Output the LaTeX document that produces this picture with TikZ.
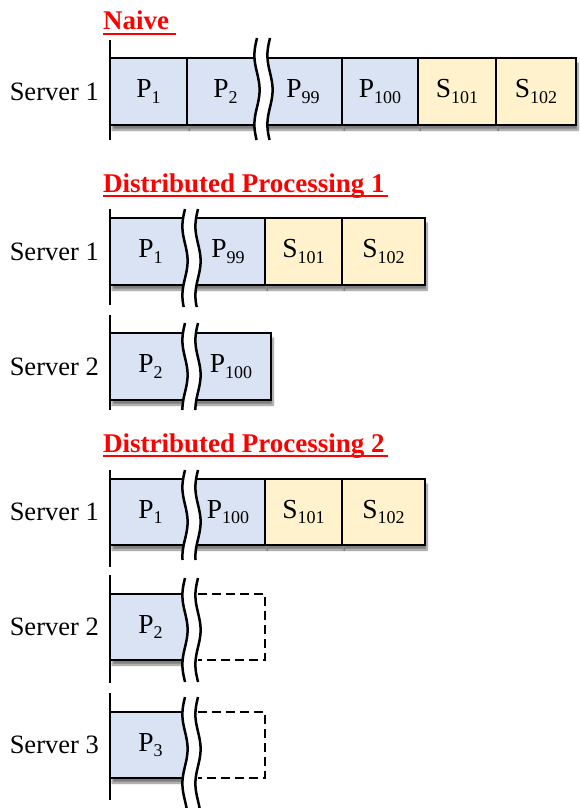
\documentclass[tikz,border=0pt]{standalone}
\usepackage{fontspec}
\setmainfont{Liberation Serif}
\usetikzlibrary{shadows.blur}
\definecolor{pblue}{HTML}{DAE3F3}
\definecolor{syell}{HTML}{FFF2CC}
\newcommand\sbs[1]{\raisebox{-5.5pt}{\fontsize{18}{18}\selectfont #1}}
\newcommand\brk[3]{%
  \fill[white] plot[domain=#2:#3,samples=50,smooth] ({#1-6.5-2.6*sin(5.2*(\x-#2))},\x)
    -- plot[domain=#3:#2,samples=50,smooth] ({#1+6.5-2.6*sin(5.2*(\x-#2))},\x) -- cycle;
  \draw[brkline] plot[domain=#2:#3,samples=50,smooth] ({#1-6.5-2.6*sin(5.2*(\x-#2))},\x);
  \draw[brkline] plot[domain=#2:#3,samples=50,smooth] ({#1+6.5-2.6*sin(5.2*(\x-#2))},\x);}
\begin{document}
\begin{tikzpicture}[x=1pt,y=-1pt,
  every node/.style={font=\fontsize{26.5}{30}\selectfont, inner sep=0pt},
  cell/.style={draw=black, line width=2.5pt, minimum height=67pt, font=\fontsize{27.5}{30}\selectfont,
     blur shadow={shadow xshift=2pt, shadow yshift=-5pt, shadow blur steps=8, shadow opacity=50}},
  pcell/.style={cell, fill=pblue},
  scell/.style={cell, fill=syell},
  brkline/.style={line width=2.5pt, black},
  axis/.style={line width=2.5pt, black},
  dbox/.style={line width=2.5pt, dash pattern=on 9pt off 5pt},
  ttl/.style={anchor=base west, text=red, font=\fontsize{27}{30}\selectfont\bfseries},
  uline/.style={red, line width=2pt},
  lbl/.style={anchor=east}]
\useasboundingbox (0,0) rectangle (579,808);

% ---------- Naive ----------
\node[ttl] (t0) at (103,30) {Naive};
\coordinate (t0e) at (176,34);
\draw[uline] ([yshift=-4pt]t0.base west) -- (t0e);
\node[lbl] (l0) at (99,91.5) {Server 1};
\node[pcell, minimum width=77pt] (a1) at (148.5,91.5) {P\sbs{1}};
\node[pcell, minimum width=77pt] (a2) at (225.5,91.5) {P\sbs{2}};
\node[pcell, minimum width=78pt] (a3) at (303,91.5) {P\sbs{99}};
\node[pcell, minimum width=76pt] (a4) at (380,91.5) {P\sbs{100}};
\node[scell, minimum width=78pt] (a5) at (457,91.5) {S\sbs{101}};
\node[scell, minimum width=80pt] (a6) at (536,91.5) {S\sbs{102}};
\brk{263.5}{38}{140}
\coordinate (x0a) at (110,40); \coordinate (x0b) at (110,140);
\draw[axis] (x0a) -- (x0b);

% ---------- Distributed Processing 1 ----------
\node[ttl] (t1) at (103,192) {Distributed Processing 1};
\coordinate (t1e) at (388,196);
\draw[uline] ([yshift=-4pt]t1.base west) -- (t1e);
\node[lbl] (l1) at (99,251.5) {Server 1};
\node[pcell, minimum width=81pt] (b1) at (150.5,251.5) {P\sbs{1}};
\node[pcell, minimum width=74pt] (b2) at (228,251.5) {P\sbs{99}};
\node[scell, minimum width=77pt] (b3) at (303.5,251.5) {S\sbs{101}};
\node[scell, minimum width=83pt] (b4) at (383.5,251.5) {S\sbs{102}};
\brk{191.5}{209}{307}
\coordinate (x1a) at (110,209); \coordinate (x1b) at (110,305);
\draw[axis] (x1a) -- (x1b);

\node[lbl] (l2) at (99,366.5) {Server 2};
\node[pcell, minimum width=81pt] (c1) at (150.5,366.5) {P\sbs{2}};
\node[pcell, minimum width=80pt] (c2) at (231,366.5) {P\sbs{100}};
\brk{191.5}{323}{410}
\coordinate (x2a) at (110,315); \coordinate (x2b) at (110,410);
\draw[axis] (x2a) -- (x2b);

% ---------- Distributed Processing 2 ----------
\node[ttl] (t2) at (103,452) {Distributed Processing 2};
\coordinate (t2e) at (388,456);
\draw[uline] ([yshift=-4pt]t2.base west) -- (t2e);
\node[lbl] (l3) at (99,512) {Server 1};
\node[pcell, minimum width=81pt, minimum height=66pt] (d1) at (150.5,512) {P\sbs{1}};
\node[pcell, minimum width=74pt, minimum height=66pt] (d2) at (228,512) {P\sbs{100}};
\node[scell, minimum width=77pt, minimum height=66pt] (d3) at (303.5,512) {S\sbs{101}};
\node[scell, minimum width=83pt, minimum height=66pt] (d4) at (383.5,512) {S\sbs{102}};
\brk{191.5}{470}{560}
\coordinate (x3a) at (110,470); \coordinate (x3b) at (110,567);
\draw[axis] (x3a) -- (x3b);

\node[lbl] (l4) at (99,627) {Server 2};
\node[pcell, minimum width=81pt, minimum height=66pt] (e1) at (150.5,627) {P\sbs{2}};
\coordinate (e2a) at (198,594); \coordinate (e2b) at (265,594);
\coordinate (e2c) at (265,660); \coordinate (e2d) at (198,660);
\draw[dbox] (e2a) -- (e2b) -- (e2c) -- (e2d);
\brk{191.5}{578}{682}
\coordinate (x4a) at (110,575); \coordinate (x4b) at (110,683);
\draw[axis] (x4a) -- (x4b);

\node[lbl] (l5) at (99,745) {Server 3};
\node[pcell, minimum width=81pt, minimum height=66pt] (f1) at (150.5,745) {P\sbs{3}};
\coordinate (f2a) at (198,712); \coordinate (f2b) at (265,712);
\coordinate (f2c) at (265,778); \coordinate (f2d) at (198,778);
\draw[dbox] (f2a) -- (f2b) -- (f2c) -- (f2d);
\brk{191.5}{697}{808}
\coordinate (x5a) at (110,693); \coordinate (x5b) at (110,800);
\draw[axis] (x5a) -- (x5b);
\end{tikzpicture}
\end{document}
